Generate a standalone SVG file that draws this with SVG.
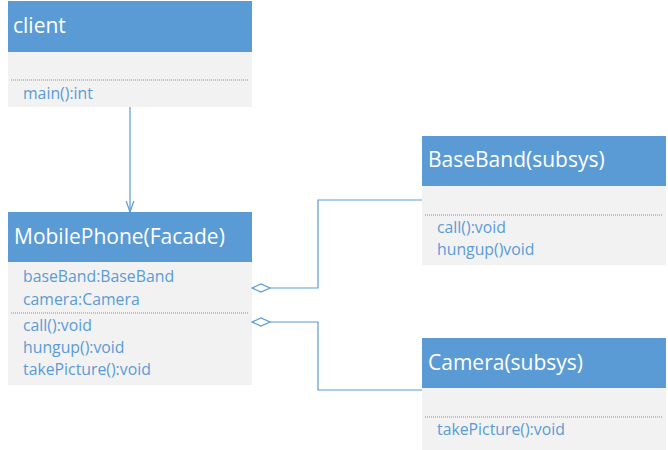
<svg xmlns="http://www.w3.org/2000/svg" width="668" height="450" viewBox="0 0 668 450">
<defs>
<style>
.hd{fill:#5B9BD5}
.bd{fill:#F2F2F2}
.ttl{font-family:"Open Sans","Liberation Sans",sans-serif;font-size:21px;fill:#FFFFFF}
.mb{font-family:"Open Sans","Liberation Sans",sans-serif;font-size:15.8px;fill:#5B9BD5}
.dot{stroke:#5B9BD5;stroke-width:1;stroke-dasharray:1 1;fill:none}
.con{stroke:#5B9BD5;stroke-width:1.2;fill:none}
</style>
<marker id="arr" viewBox="0 0 12 10" refX="11.5" refY="5" markerWidth="12" markerHeight="10" markerUnits="userSpaceOnUse" orient="auto">
<path d="M0,1 L11.5,5 L0,9" fill="none" stroke="#5B9BD5" stroke-width="1.2"/>
</marker>
</defs>
<rect width="668" height="450" fill="#FFFFFF"/>
<g id="client">
<rect class="hd" x="8" y="1" width="244" height="51"/>
<rect class="bd" x="8" y="52" width="244" height="55"/>
<text class="ttl" x="13" y="33">client</text>
<line class="dot" x1="11" y1="80" x2="249" y2="80"/>
<text class="mb" x="23" y="99">main():int</text>
</g>
<g id="mobilephone">
<rect class="hd" x="8" y="212" width="244" height="50"/>
<rect class="bd" x="8" y="262" width="244" height="123"/>
<text class="ttl" x="14" y="244">MobilePhone(Facade)</text>
<text class="mb" x="23" y="282">baseBand:BaseBand</text>
<text class="mb" x="23" y="305">camera:Camera</text>
<line class="dot" x1="11" y1="313" x2="249" y2="313"/>
<text class="mb" x="23" y="331">call():void</text>
<text class="mb" x="23" y="353">hungup():void</text>
<text class="mb" x="23" y="375">takePicture():void</text>
</g>
<g id="baseband">
<rect class="hd" x="422" y="136" width="244" height="50"/>
<rect class="bd" x="422" y="186" width="244" height="79"/>
<text class="ttl" x="428" y="167">BaseBand(subsys)</text>
<line class="dot" x1="425" y1="215" x2="663" y2="215"/>
<text class="mb" x="437" y="233">call():void</text>
<text class="mb" x="437" y="255">hungup()void</text>
</g>
<g id="camera">
<rect class="hd" x="422" y="338" width="244" height="50"/>
<rect class="bd" x="422" y="388" width="244" height="62"/>
<text class="ttl" x="428" y="370">Camera(subsys)</text>
<line class="dot" x1="425" y1="417" x2="663" y2="417"/>
<text class="mb" x="437" y="435">takePicture():void</text>
</g>
<g id="connectors">
<line class="con" x1="130" y1="107" x2="130" y2="212" marker-end="url(#arr)"/>
<path class="con" d="M270,288 H318 V200 H422"/>
<path class="con" d="M252,288 L261,284 L270,288 L261,292 Z" fill="#FFFFFF"/>
<path class="con" d="M270,322 H318 V390 H422"/>
<path class="con" d="M252,322 L261,318 L270,322 L261,326 Z" fill="#FFFFFF"/>
</g>
</svg>
